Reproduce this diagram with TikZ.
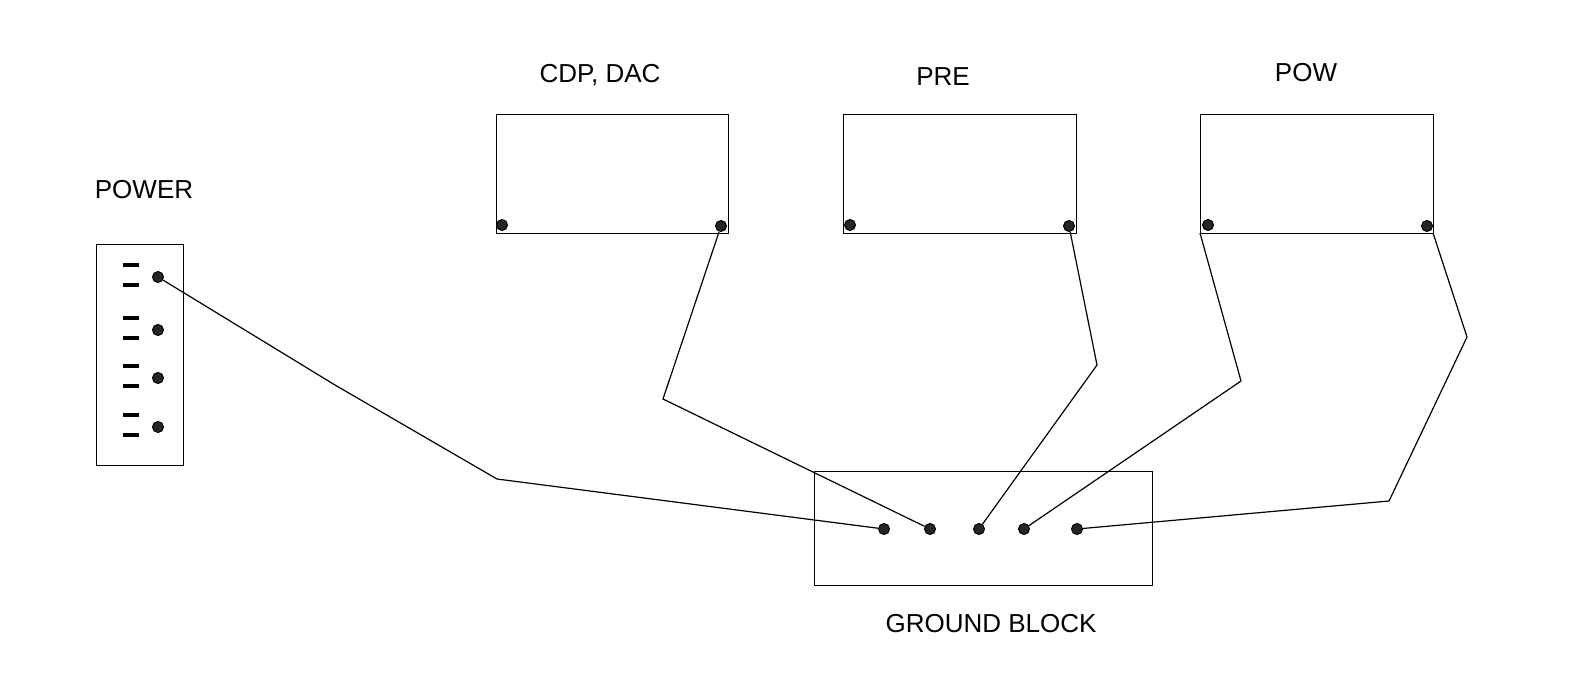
\documentclass[tikz,border=0pt]{standalone}
\usepackage{fontspec}
\setmainfont{Liberation Sans}
\begin{document}
\begin{tikzpicture}[x=0.5pt,y=-0.5pt,
  box/.style={draw,line width=0.5pt},
  lbl/.style={font=\fontsize{13}{15}\selectfont},
  screw/.style={circle,draw,fill=black!85,inner sep=0pt,minimum size=5.5pt,line width=0.5pt},
  slot/.style={line width=2pt},
  wire/.style={line width=0.6pt}]
\useasboundingbox (0,0) rectangle (1573,685);
% power strip
\node[lbl] (lp) at (144,190) {POWER};
\draw[box] (96,244) rectangle (183,465);
\foreach \y/\n in {277/p1,330/p2,378/p3,427/p4}{
  \draw[slot] (123,\y-12) -- (139,\y-12);
  \draw[slot] (123,\y+8) -- (139,\y+8);
  \node[screw] (\n) at (158,\y) {};
}
% devices
\node[lbl] (lc) at (600,75) {CDP, DAC};
\draw[box] (496,114) rectangle (728,233);
\node[screw] (c1) at (502,225) {};
\node[screw] (c2) at (721,226) {};
\node[lbl] (lpr) at (943,77) {PRE};
\draw[box] (843,114) rectangle (1076,233);
\node[screw] (r1) at (850,225) {};
\node[screw] (r2) at (1069,226) {};
\node[lbl] (lpo) at (1306,73) {POW};
\draw[box] (1200,114) rectangle (1433,233);
\node[screw] (w1) at (1208,225) {};
\node[screw] (w2) at (1427,226) {};
% ground block
\draw[box] (814,471) rectangle (1152,585);
\node[lbl] (lg) at (991,624) {GROUND BLOCK};
\foreach \x/\n in {884/g1,930/g2,979/g3,1024/g4,1077/g5}{\node[screw] (\n) at (\x,529) {};}
% wires
\coordinate (wl) at (1200,233);
\coordinate (wr) at (1433,233);
\draw[wire] (p1) -- (335,385) -- (497,479) -- (g1);
\draw[wire] (c2) -- (663,399) -- (g2);
\draw[wire] (r2) -- (1097,365) -- (g3);
\draw[wire] (wl) -- (1241,381) -- (g4);
\draw[wire] (wr) -- (1467,337) -- (1389,501) -- (g5);
\end{tikzpicture}
\end{document}
